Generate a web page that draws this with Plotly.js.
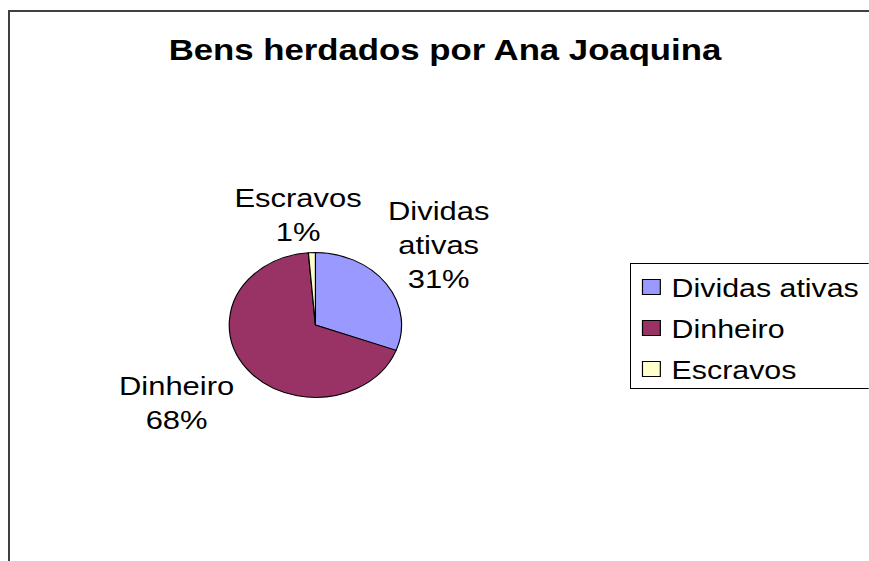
<!DOCTYPE html>
<html>
<head>
<meta charset="utf-8">
<script src="https://cdn.plot.ly/plotly-3.0.1.min.js"></script>
<style>
  html, body { margin: 0; padding: 0; width: 869px; height: 561px; overflow: hidden; background: #fff; }
  .edge { position: absolute; background: #404040; z-index: 2; pointer-events: none; }
  #edgeTop { left: 8px; top: 10px; width: 861px; height: 2px; }
  #edgeLeft { left: 8px; top: 10px; width: 2px; height: 551px; }
  #plot { position: absolute; left: 0; top: 0; width: 730px; height: 561px; transform: scaleX(1.19); transform-origin: 0 0; }
</style>
</head>
<body>
<div id="plot"></div>
<div class="edge" id="edgeTop"></div>
<div class="edge" id="edgeLeft"></div>
<script>
const categories = ["Dividas ativas", "Dinheiro", "Escravos"];
const values = [30.7, 68.0, 1.3];
const colors = ["#9999FF", "#993366", "#FFFFCC"];
const chartTitle = "Bens herdados por Ana Joaquina";

const total = values.reduce((a, b) => a + b, 0);
const pct = values.map(v => Math.round(v / total * 100) + "%");
const labelText = categories.map((c, i) => c.replace(/ /g, "<br>") + "<br>" + pct[i]);

// label anchor positions (paper fractions) for Dividas, Dinheiro, Escravos
const labelPos = [[0.5095, 0.5633], [0.2055, 0.2816], [0.3460, 0.6168]];

const trace = {
  type: "pie",
  labels: categories,
  values: values,
  sort: false,
  direction: "clockwise",
  rotation: 0,
  marker: { colors: colors, line: { color: "#000000", width: 1 } },
  textinfo: "none",
  hoverinfo: "label+percent",
  domain: { x: [0.2661, 0.4661], y: [0.2906, 0.5508] }
};

const font = "Liberation Sans, Arial, sans-serif";
const layout = {
  width: 730, height: 561,
  margin: { l: 0, r: 0, t: 0, b: 0 },
  paper_bgcolor: "#ffffff",
  title: {
    text: "<b>" + chartTitle + "</b>",
    font: { family: font, size: 29.2, color: "#000" },
    x: 0.5165, xanchor: "center", xref: "paper",
    y: 0.911, yanchor: "middle", yref: "container"
  },
  showlegend: true,
  legend: {
    x: 0.7252, xanchor: "left", y: 0.5306, yanchor: "top",
    bordercolor: "#000000", borderwidth: 1,
    font: { family: font, size: 25.5, color: "#000" },
    itemwidth: 30,
    bgcolor: "#ffffff"
  },
  annotations: labelText.map((t, i) => ({
    text: t, showarrow: false,
    x: labelPos[i][0], y: labelPos[i][1], xref: "paper", yref: "paper",
    xanchor: "center", yanchor: "middle", align: "center",
    font: { family: font, size: 26, color: "#000" }
  }))
};

Plotly.newPlot("plot", [trace], layout, { staticPlot: true, displayModeBar: false }).then(gd => {
  // place the legend box like the reference (its right edge runs past the window)
  const leg = gd.querySelector("g.legend");
  if (leg) {
    const lm = /translate\(\s*([-\d.]+)[ ,]+([-\d.]+)\s*\)/.exec(leg.getAttribute("transform") || "");
    const ly = lm ? parseFloat(lm[2]) : 263.3;
    leg.setAttribute("transform", "translate(529.4," + ly + ")");
  }
  // spread legend rows and enlarge swatches to match the reference legend
  const rowGap = 41, firstRow = 23.7, boxH = 124.5;
  const items = gd.querySelectorAll(".legend .traces");
  items.forEach((g, i) => {
    const m = /translate\(\s*([-\d.]+)[ ,]+([-\d.]+)\s*\)/.exec(g.getAttribute("transform") || "");
    const x0 = m ? parseFloat(m[1]) : 1;
    g.setAttribute("transform", "translate(" + x0 + "," + (firstRow + rowGap * i) + ")");
    g.querySelectorAll("path.legendpie").forEach(p => {
      p.setAttribute("d", "M7.5,7.5H-7.5V-7.5H7.5Z");
      const t = p.getAttribute("transform") || "";
      p.setAttribute("transform", t + " translate(-3,0)");
    });
    g.querySelectorAll("text.legendtext").forEach(tx => tx.setAttribute("x", "34"));
  });
  const bg = gd.querySelector(".legend rect.bg");
  if (bg) { bg.setAttribute("height", boxH); bg.setAttribute("width", 260); }
});
</script>
</body>
</html>
